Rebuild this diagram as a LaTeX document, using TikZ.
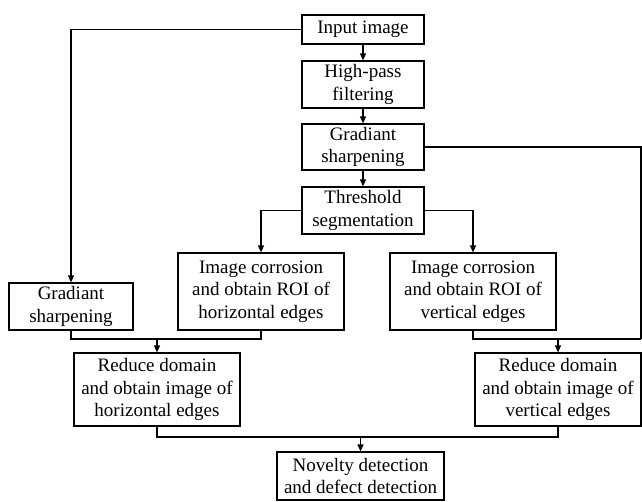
\documentclass[tikz,border=0pt]{standalone}
\usepackage{fontspec}
\setmainfont{Liberation Serif}
\usetikzlibrary{arrows.meta}
\begin{document}
\begin{tikzpicture}[x=1pt,y=-1pt,
  box/.style={draw,line width=1.2pt,rectangle,inner sep=0pt,align=center,
    font=\fontsize{19}{22.5}\selectfont},
  line/.style={line width=1.2pt},
  arr/.style={line width=1.2pt,-{Triangle[length=7pt,width=6pt]}}]
\useasboundingbox (0,0) rectangle (642,501);
\node[box,minimum width=122pt,minimum height=29pt] (in) at (363,29.5) {Input image};
\node[box,minimum width=122pt,minimum height=47pt] (hp) at (363,84.5) {High-pass\\filtering};
\node[box,minimum width=122pt,minimum height=46pt] (gs) at (363,147) {Gradiant\\sharpening};
\node[box,minimum width=122pt,minimum height=47pt] (th) at (363,210.5) {Threshold\\segmentation};
\node[box,minimum width=124pt,minimum height=47pt] (gsl) at (71,306.5) {Gradiant\\sharpening};
\node[box,minimum width=166pt,minimum height=77pt] (ch) at (261,291.5) {Image corrosion\\and obtain ROI of\\horizontal edges};
\node[box,minimum width=166pt,minimum height=77pt] (cv) at (473,291.5) {Image corrosion\\and obtain ROI of\\vertical edges};
\node[box,minimum width=166pt,minimum height=73pt] (rh) at (157,389.5) {Reduce domain\\and obtain image of\\horizontal edges};
\node[box,minimum width=166pt,minimum height=73pt] (rv) at (558,389.5) {Reduce domain\\and obtain image of\\vertical edges};
\node[box,minimum width=167pt,minimum height=48pt] (nd) at (360.5,476) {Novelty detection\\and defect detection};
\coordinate (j1) at (157,339);
\coordinate (j2) at (558,339);
\coordinate (rc) at (641,339);
\coordinate (j3) at (360.5,437);
% vertical chain
\draw[arr] (in) -- (hp);
\draw[arr] (hp) -- (gs);
\draw[arr] (gs) -- (th);
% left branch from input
\draw[arr] (in.west) -| (gsl.north);
% threshold split
\draw[arr] (th.west) -| (ch.north);
\draw[arr] (th.east) -| (cv.north);
% left join
\draw[line] (gsl.south) |- (j1) -| (ch.south);
\draw[arr] (j1) -- (rh.north);
% right join
\draw[line] (gs.east) -| (rc);
\draw[line] (cv.south) |- (rc);
\draw[arr] (j2) -- (rv.north);
% bottom join
\draw[line] (rh.south) |- (j3) -| (rv.south);
\draw[arr] (j3) -- (nd.north);
\end{tikzpicture}
\end{document}
